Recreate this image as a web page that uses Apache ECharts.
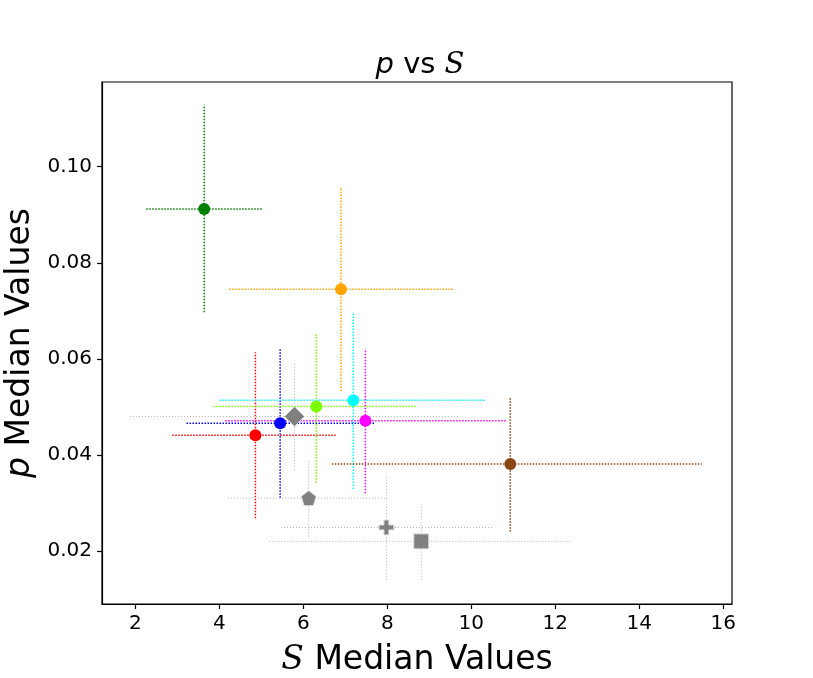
<!DOCTYPE html>
<html>
<head>
<meta charset="utf-8">
<script src="https://cdn.jsdelivr.net/npm/echarts@6/dist/echarts.min.js"></script>
<style>
html, body { margin: 0; padding: 0; background: #fff; }
#chart { width: 813px; height: 678px; }
</style>
</head>
<body>
<div id="chart"></div>
<script>
// 各点的中位数和误差范围
var names  = ['green', 'orange', 'red', 'blue', 'diamond', 'lime', 'cyan', 'magenta', 'brown', 'pentagon', 'plus', 'square'];
var sMed   = [3.64, 6.90, 4.86, 5.45, 5.79, 6.31, 7.19, 7.48, 10.93, 6.13, 7.98, 8.81];
var sLow   = [2.26, 4.24, 2.88, 3.22, 1.87, 3.86, 4.00, 4.14, 6.68, 4.21, 5.47, 5.19];
var sHigh  = [5.02, 9.60, 6.77, 7.69, 9.69, 8.71, 10.33, 10.84, 15.49, 8.00, 10.49, 12.39];
var pMed   = [0.0912, 0.0745, 0.0441, 0.0466, 0.0480, 0.0501, 0.0514, 0.0471, 0.0381, 0.0310, 0.0249, 0.0220];
var pLow   = [0.0697, 0.0533, 0.0268, 0.0311, 0.0369, 0.0342, 0.0329, 0.0320, 0.0240, 0.0230, 0.0140, 0.0140];
var pHigh  = [0.1129, 0.0958, 0.0614, 0.0621, 0.0589, 0.0652, 0.0697, 0.0621, 0.0518, 0.0390, 0.0358, 0.0298];
var colors = ['#008000', '#ffa500', '#ff0000', '#0000ff', '#808080', '#7cfc00', '#00ffff', '#ff00ff', '#8b4513', '#808080', '#808080', '#808080'];
var barColors = ['#008000', '#ffa500', '#ff0000', '#0000ff', '#b0b0b0', '#7cfc00', '#00ffff', '#ff00ff', '#8b4513', '#b0b0b0', '#b0b0b0', '#b0b0b0'];

var PENTAGON = 'path://M0,-1 L0.951,-0.309 L0.588,0.809 L-0.588,0.809 L-0.951,-0.309 Z';
var PLUS = 'path://M-0.33,-1 L0.33,-1 L0.33,-0.33 L1,-0.33 L1,0.33 L0.33,0.33 L0.33,1 L-0.33,1 L-0.33,0.33 L-1,0.33 L-1,-0.33 L-0.33,-0.33 Z';
var symbols = ['circle', 'circle', 'circle', 'circle', 'diamond', 'circle', 'circle', 'circle', 'circle', PENTAGON, PLUS, 'rect'];
var sizes   = [12, 12, 12, 12, [20, 20], 12, 12, 12, 12, 15, 15, 15];

var xTicks = [2, 4, 6, 8, 10, 12, 14, 16];
var yTicks = [0.02, 0.04, 0.06, 0.08, 0.10];

var myChart = echarts.init(document.getElementById('chart'));

var series = [];
// 误差线
var barData = [];
for (var i = 0; i < names.length; i++) {
    barData.push([sMed[i], pMed[i], sLow[i], sHigh[i], pLow[i], pHigh[i], i]);
}
series.push({
    type: 'custom',
    silent: true,
    z: 1,
    renderItem: function (params, api) {
        var idx = api.value(6);
        var c = api.coord([api.value(0), api.value(1)]);
        var l = api.coord([api.value(2), api.value(1)]);
        var r = api.coord([api.value(3), api.value(1)]);
        var b = api.coord([api.value(0), api.value(4)]);
        var t = api.coord([api.value(0), api.value(5)]);
        var gray = colors[idx] == '#808080';
        var style = {
            stroke: barColors[idx],
            lineWidth: gray ? 1 : 1.5,
            lineDash: gray ? [1, 2] : [1.5, 1.5],
            fill: null
        };
        return {
            type: 'group',
            children: [
                { type: 'line', shape: { x1: l[0], y1: c[1], x2: r[0], y2: c[1] }, style: style },
                { type: 'line', shape: { x1: c[0], y1: b[1], x2: c[0], y2: t[1] }, style: style }
            ]
        };
    },
    data: barData
});
// 标记点
for (var i = 0; i < names.length; i++) {
    var gray = colors[i] == '#808080';
    series.push({
        type: 'scatter',
        name: names[i],
        z: 3,
        symbol: symbols[i],
        symbolSize: sizes[i],
        itemStyle: {
            color: colors[i],
            opacity: 1,
            borderColor: gray ? '#e0e0e0' : colors[i],
            borderWidth: gray ? 1 : 0
        },
        data: [[sMed[i], pMed[i]]]
    });
}

var option = {
    animation: false,
    title: {
        text: '{i|p} vs {s|S}',
        left: 415,
        textAlign: 'center',
        top: 46,
        textStyle: {
            fontFamily: 'DejaVu Sans',
            fontWeight: 'normal',
            fontSize: 29,
            color: '#000',
            rich: {
                i: { fontFamily: 'DejaVu Sans', fontStyle: 'italic', fontSize: 29, color: '#000' },
                s: { fontFamily: 'DejaVu Serif', fontStyle: 'italic', fontSize: 29, color: '#000' }
            }
        }
    },
    grid: {
        left: 102,
        right: 81,
        top: 82,
        bottom: 74,
        containLabel: false,
        outerBoundsMode: 'none',
        show: true,
        borderColor: '#000',
        borderWidth: 1.2
    },
    xAxis: {
        type: 'value',
        min: 1.207,
        max: 16.21,
        name: '{s|S} Median Values',
        nameLocation: 'middle',
        nameGap: 40,
        nameTextStyle: {
            fontFamily: 'DejaVu Sans',
            fontSize: 33,
            color: '#000',
            rich: {
                s: { fontFamily: 'DejaVu Serif', fontStyle: 'italic', fontSize: 33, color: '#000' }
            }
        },
        splitLine: { show: false },
        axisLine: { show: true, onZero: false, lineStyle: { color: '#000', width: 1.2 } },
        axisTick: { show: true, inside: false, length: 5, customValues: xTicks, lineStyle: { color: '#000', width: 1.2 } },
        axisLabel: {
            customValues: xTicks,
            fontFamily: 'DejaVu Sans',
            fontSize: 20,
            color: '#000',
            margin: 10
        }
    },
    yAxis: {
        type: 'value',
        min: 0.00896,
        max: 0.11764,
        name: '{i|p} Median Values',
        nameLocation: 'middle',
        nameGap: 53,
        nameRotate: 90,
        nameTextStyle: {
            fontFamily: 'DejaVu Sans',
            fontSize: 33,
            color: '#000',
            rich: {
                i: { fontFamily: 'DejaVu Sans', fontStyle: 'italic', fontSize: 33, color: '#000' }
            }
        },
        splitLine: { show: false },
        axisLine: { show: true, onZero: false, lineStyle: { color: '#000', width: 1.2 } },
        axisTick: { show: true, inside: false, length: 5, customValues: yTicks, lineStyle: { color: '#000', width: 1.2 } },
        axisLabel: {
            customValues: yTicks,
            fontFamily: 'DejaVu Sans',
            fontSize: 20,
            color: '#000',
            margin: 10,
            formatter: function (v) { return v.toFixed(2); }
        }
    },
    series: series
};

myChart.setOption(option);
</script>
</body>
</html>
